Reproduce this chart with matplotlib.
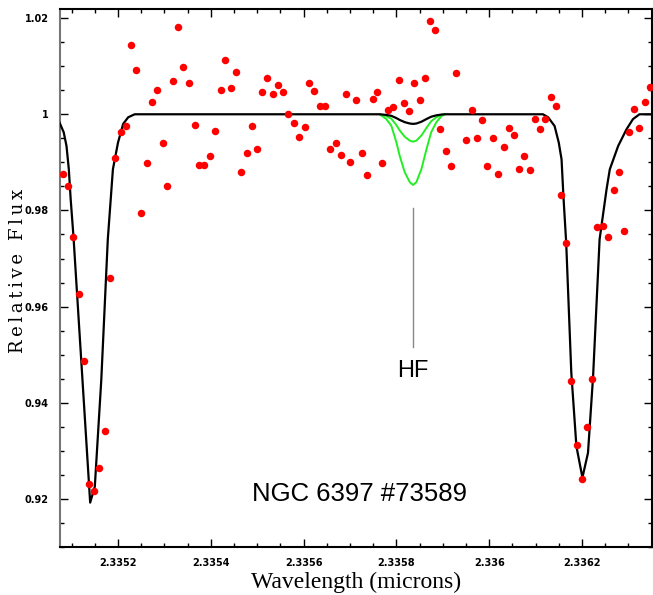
import numpy as np
import matplotlib
matplotlib.use("Agg")
import matplotlib.pyplot as plt
from matplotlib.ticker import MultipleLocator, FixedLocator

# observed spectrum (red points)
wave = [2.335081, 2.335092, 2.335104, 2.335115, 2.335127, 2.335138, 2.335148, 2.335160,
        2.335171, 2.335183, 2.335194, 2.335206, 2.335217, 2.335227, 2.335239, 2.335250,
        2.335262, 2.335273, 2.335285, 2.335296, 2.335306, 2.335318, 2.335329, 2.335341,
        2.335352, 2.335365, 2.335375, 2.335385, 2.335398, 2.335408, 2.335421, 2.335431,
        2.335443, 2.335454, 2.335465, 2.335477, 2.335488, 2.335499, 2.335510, 2.335522,
        2.335533, 2.335544, 2.335556, 2.335566, 2.335579, 2.335590, 2.335602, 2.335612,
        2.335623, 2.335635, 2.335646, 2.335658, 2.335669, 2.335680, 2.335691, 2.335701,
        2.335714, 2.335726, 2.335737, 2.335749, 2.335759, 2.335770, 2.335782, 2.335793,
        2.335805, 2.335816, 2.335828, 2.335838, 2.335850, 2.335861, 2.335872, 2.335884,
        2.335895, 2.335906, 2.335917, 2.335928, 2.335951, 2.335963, 2.335974, 2.335985,
        2.335996, 2.336008, 2.336019, 2.336031, 2.336042, 2.336053, 2.336064, 2.336075,
        2.336087, 2.336098, 2.336109, 2.336121, 2.336133, 2.336143, 2.336154, 2.336166,
        2.336177, 2.336189, 2.336201, 2.336211, 2.336222, 2.336233, 2.336245, 2.336256,
        2.336268, 2.336279, 2.336290, 2.336301, 2.336313, 2.336324, 2.336335, 2.336347]
flux = [0.98757, 0.98516, 0.97454, 0.96259, 0.94873, 0.92308, 0.92163, 0.92652,
        0.93422, 0.96592, 0.99090, 0.99640, 0.99756, 1.01443, 1.00916, 0.97954,
        0.98980, 1.00256, 1.00514, 0.99396, 0.98501, 1.00687, 1.01817, 1.00993,
        1.00660, 0.99771, 0.98938, 0.98953, 0.99126, 0.99661, 1.00514, 1.01124,
        1.00556, 1.00880, 0.98807, 0.99203, 0.99756, 0.99286, 1.00464, 1.00764,
        1.00423, 1.00610, 1.00464, 1.00015, 0.99813, 0.99527, 0.99736, 1.00660,
        1.00479, 1.00173, 1.00173, 0.99286, 0.99396, 0.99147, 1.00416, 0.99015,
        1.00291, 0.99203, 0.98745, 1.00318, 1.00473, 0.98986, 1.00098, 1.00152,
        1.00708, 1.00244, 1.00077, 1.00645, 1.00306, 1.00749, 1.01942, 1.01749,
        0.99688, 0.99236, 0.98924, 1.00868, 0.99465, 1.00098, 0.99500, 0.99890,
        0.98924, 0.99500, 0.98757, 0.99313, 0.99709, 0.99577, 0.98870, 0.99126,
        0.98834, 0.99896, 0.99688, 0.99896, 1.00354, 1.00181, 0.98324, 0.97321,
        0.94457, 0.93116, 0.92423, 0.93505, 0.94498, 0.97658, 0.97675, 0.97454,
        0.98433, 0.98799, 0.97569, 0.99640, 1.00110, 0.99709, 1.00256, 1.00562]

# synthetic model: two strong lines
left_w = [2.335074, 2.335083, 2.335089, 2.335094, 2.335098, 2.335104, 2.335140, 2.335150,
          2.335164, 2.335178, 2.335189, 2.335200, 2.335211, 2.335222, 2.335236]
left_f = [0.99827, 0.99625, 0.99340, 0.98855, 0.98231, 0.97460, 0.91923, 0.92256,
          0.94484, 0.97398, 0.98855, 0.99411, 0.99798, 0.99938, 1.0]
right_w = [2.336116, 2.336127, 2.336141, 2.336150, 2.336156, 2.336160, 2.336166, 2.336177,
           2.336188, 2.336201, 2.336213, 2.336224, 2.336238, 2.336253, 2.336260, 2.336278,
           2.336296, 2.336310, 2.336324, 2.336352]
right_f = [1.0, 0.99938, 0.99756, 0.99411, 0.99063, 0.98300, 0.97330, 0.94630,
           0.93095, 0.92444, 0.92958, 0.94552, 0.97398, 0.98439, 0.98855, 0.99340,
           0.99688, 0.99900, 1.0, 1.0]

# HF line profile (normalised) and the three abundances tried
hf_w = [2.335764, 2.335778, 2.335789, 2.335800, 2.335807, 2.335818, 2.335829, 2.335836,
        2.335843, 2.335854, 2.335865, 2.335875, 2.335886, 2.335897, 2.335904]
hf_shape = [0.0, 0.066, 0.16, 0.396, 0.585, 0.82, 0.962, 1.0,
            0.962, 0.774, 0.491, 0.255, 0.113, 0.028, 0.0]
hf_depths = [0.0020, 0.0057, 0.0147]

hf_w = np.array(hf_w)
hf_shape = np.array(hf_shape)

fig = plt.figure(figsize=(6.53, 5.95), dpi=100)
ax = fig.add_axes([0.0919, 0.0807, 0.9066, 0.9042])

for d in hf_depths[1:]:
    ax.plot(hf_w, 1 - d * hf_shape, color='#22ee22', lw=1.4, zorder=2)

model_w = np.concatenate([left_w, hf_w, right_w])
model_f = np.concatenate([left_f, 1 - hf_depths[0] * hf_shape, right_f])
ax.plot(model_w, model_f, color='black', lw=1.6, zorder=3)

ax.plot(wave, flux, 'o', color='red', ms=5.4, mec='none', zorder=4)

ax.set_xlim(2.335075, 2.336351)
ax.set_ylim(0.910, 1.0219)

xt = [2.3352, 2.3354, 2.3356, 2.3358, 2.336, 2.3362]
yt = [0.92, 0.94, 0.96, 0.98, 1.0, 1.02]
ax.xaxis.set_major_locator(FixedLocator(xt))
ax.set_xticklabels(['2.3352', '2.3354', '2.3356', '2.3358', '2.336', '2.3362'])
ax.yaxis.set_major_locator(FixedLocator(yt))
ax.set_yticklabels(['0.92', '0.94', '0.96', '0.98', '1', '1.02'])
ax.xaxis.set_minor_locator(MultipleLocator(0.00005))
ax.yaxis.set_minor_locator(MultipleLocator(0.005))
ax.tick_params(which='both', direction='in', top=True, right=True, labelsize=7, width=1)
ax.tick_params(which='major', length=6, pad=8)
ax.tick_params(which='minor', length=3)
for lab in ax.get_xticklabels() + ax.get_yticklabels():
    lab.set_fontweight('bold')
for s in ax.spines.values():
    s.set_linewidth(1.5)
ax.spines['left'].set_color('#777777')

# HF marker
ax.plot([2.335836, 2.335836], [0.9805, 0.9515], color='#888888', lw=1)
ax.text(2.335836, 0.9465, 'HF', ha='center', va='center', fontsize=17,
        family='Liberation Sans')
ax.text(2.33572, 0.9211, 'NGC 6397 #73589', ha='center', va='center', fontsize=18.5,
        family='Liberation Sans')

ax.set_xlabel('Wavelength (microns)', fontsize=17, family='Liberation Serif')
ax.xaxis.set_label_coords(0.5, -0.065)
ax.set_ylabel('\u2009'.join('Relative Flux'), fontsize=13, family='DejaVu Serif')
ax.yaxis.set_label_coords(-0.071, 0.513)
ax.yaxis.label.set_va('center')
ax.xaxis.label.set_va('center')

fig.savefig('out.png', dpi=100)
